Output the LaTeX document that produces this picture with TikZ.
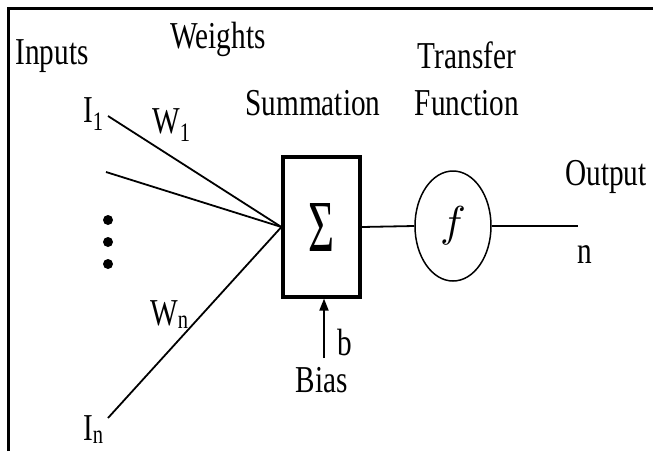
\documentclass[tikz,border=0pt]{standalone}
\usepackage{fontspec}
\usepackage{graphicx}
\setmainfont{Liberation Serif}[FakeStretch=0.77]
\usetikzlibrary{shapes.geometric,arrows.meta}
\begin{document}
\begin{tikzpicture}[x=1pt,y=-1pt,
  lbl/.style={inner sep=0pt,anchor=base,font=\fontsize{38}{40}\selectfont},
  lblw/.style={lbl,anchor=base west},
  wire/.style={line width=1.8pt},
  dotmark/.style={circle,fill=black,inner sep=0pt,minimum size=10pt}]
\useasboundingbox (0,0) rectangle (653,451);
% frame
\draw[line width=3pt] (8,451) -- (8,8) -- (653,8);
% labels
\node[lbl] (inputs) at (52,64) {Inputs};
\node[lbl] (weights) at (218,48) {Weights};
\node[lbl] (summ) at (313,115) {Summation};
\node[lbl] (transfer) at (467,68) {Transfer};
\node[lbl] (function) at (467,115) {Function};
\node[lbl] (output) at (606,185) {Output};
\node[lbl] (nout) at (585,263) {n};
\node[lbl] (bias) at (322,392) {Bias};
\node[lbl] (b) at (345,355) {b};
\node[lblw] (I1) at (83,122) {I\textsubscript{1}};
\node[lblw] (W1) at (152,133) {W\textsubscript{1}};
\node[lblw] (Wn) at (150,325) {W\textsubscript{n}};
\node[lblw] (In) at (83,440) {I\textsubscript{n}};
% dots
\node[dotmark] (d1) at (108,220) {};
\node[dotmark] (d2) at (108,242) {};
\node[dotmark] (d3) at (108,264) {};
% blocks
\node[draw,line width=3.2pt,minimum width=77pt,minimum height=140pt,inner sep=0pt] (sum) at (321.5,227)
  {\resizebox{26pt}{48pt}{Σ}};
\node[draw,ellipse,line width=1.5pt,minimum width=76pt,minimum height=110pt,inner sep=0pt] (fn) at (453,226)
  {\resizebox{!}{30pt}{$f$}};
% connectors
\coordinate (s1) at (108,116);
\coordinate (s2) at (106,172);
\coordinate (sn) at (108,418);
\coordinate (outend) at (578,226);
\coordinate (biasstart) at (324,358);
\draw[wire] (s1) -- (sum.west);
\draw[wire] (s2) -- (sum.west);
\draw[wire] (sn) -- (sum.west);
\draw[wire] (sum.east) -- (fn.west);
\draw[wire] (fn.east) -- (outend);
\draw[wire,-{Triangle[length=12pt,width=9pt]}] (biasstart) -- (biasstart |- sum.south);
\end{tikzpicture}
\end{document}
